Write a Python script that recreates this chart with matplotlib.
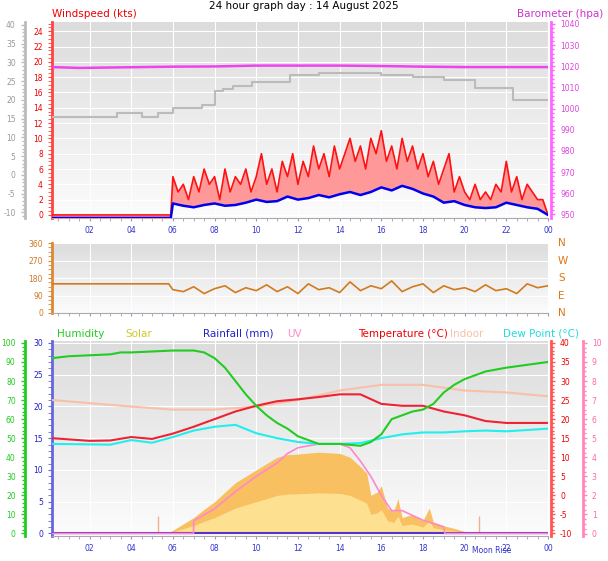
import numpy as np
import matplotlib
matplotlib.use("Agg")
import matplotlib.pyplot as plt
from matplotlib.ticker import MultipleLocator, FixedLocator

plt.rcParams["axes.unicode_minus"] = False

# ---------------- data ----------------
hour_ticks = [2, 4, 6, 8, 10, 12, 14, 16, 18, 20, 22, 24]
hour_labels = ["02", "04", "06", "08", "10", "12", "14", "16", "18", "20", "22", "00"]

gust_t = [0.2, 5.9] + list(np.linspace(6.0, 24.0, 73))
gust_v = [0, 0,
          5, 3, 4, 2, 5, 3, 6, 4,
          5, 2, 6, 3, 5, 4, 6, 3,
          5, 8, 4, 6, 3, 7, 5, 8,
          4, 7, 5, 9, 6, 8, 5, 9,
          6, 8, 10, 7, 9, 6, 10, 8,
          11, 7, 9, 6, 10, 7, 9, 6,
          8, 5, 7, 4, 6, 8, 3, 5,
          3, 2, 4, 2, 3, 2, 4, 3,
          7, 3, 5, 2, 4, 3, 2, 2,
          0]
avg_vals = [1.5, 1.2, 1.0, 1.3, 1.5, 1.2, 1.3, 1.6, 2.0, 1.7, 1.8, 2.4, 2.0, 2.2,
            2.6, 2.3, 2.7, 3.0, 2.6, 3.0, 3.6, 3.2, 3.8, 3.4, 2.8, 2.4, 1.6, 1.8,
            1.3, 1.0, 0.9, 1.0, 1.6, 1.3, 1.0, 0.8, 0.0]
avg_t = [0.2, 5.9] + list(np.linspace(6.0, 24.0, len(avg_vals)))
avg_v = [-0.4, -0.4] + avg_vals

grey_t = [0.2, 3.3, 4.5, 5.3, 6.0, 7.4, 8.0, 8.4, 8.9, 9.8, 11.6, 13.0, 16.0, 17.5, 19.0, 20.5, 22.3, 24]
grey_v = [12.8, 13.3, 12.8, 13.3, 14.0, 14.3, 16.2, 16.5, 16.8, 17.4, 18.3, 18.5, 18.3, 18.0, 17.6, 16.6, 15.0, 15.0]

baro_t = [0.2, 1.5, 3, 4.5, 6, 8, 10, 12, 14, 16, 18, 20, 22, 24]
baro_v = [1019.6, 1019.2, 1019.4, 1019.6, 1019.8, 1019.9, 1020.3, 1020.3, 1020.3, 1020.1, 1019.8, 1019.6, 1019.6, 1019.6]

dir_vals = [120, 110, 135, 100, 125, 140, 105, 130, 115, 145, 110, 135, 100, 150, 120, 130,
            105, 160, 115, 140, 125, 165, 110, 135, 150, 105, 140, 120, 130, 110, 145, 115,
            125, 100, 150, 130, 140]
dir_t = [0.2, 5.8] + list(np.linspace(6.0, 24.0, len(dir_vals)))
dir_v = [150, 150] + dir_vals

hum_t = [0.2, 1, 2, 3, 3.5, 4, 5, 6, 7, 7.5, 8, 8.5, 9, 9.5, 10, 10.5, 11, 11.5, 12, 12.5, 13, 14, 15,
         15.5, 16, 16.5, 17, 17.5, 18, 18.5, 19, 19.5, 20, 21, 21.5, 22, 23, 24]
hum_v = [92, 93, 93.5, 94, 95, 95, 95.5, 96, 96, 95, 92, 87, 80, 73, 67, 62, 58, 55, 51, 49, 47, 47, 46,
         48, 52, 60, 62, 64, 65, 68, 74, 78, 81, 85, 86, 87, 88.5, 90]

temp_t = [0.2, 2, 3, 4, 5, 6, 7, 8, 9, 10, 11, 12, 13, 14, 15, 16, 17, 18, 19, 20, 21, 22, 24]
temp_v = [15, 14.3, 14.4, 15.3, 14.8, 16.2, 18, 20, 22, 23.5, 24.7, 25.2, 25.8, 26.5, 26.5, 24,
          23.5, 23.5, 22, 21, 19.5, 19, 19]
dew_t = [0.2, 3, 4, 5, 6, 7, 8, 9, 10, 11, 12, 13, 14, 15, 16, 17, 18, 19, 20, 21, 22, 24]
dew_v = [13.5, 13.3, 14.5, 13.8, 15.3, 17, 18, 18.5, 16.3, 15, 14, 13.5, 13.5, 13.7, 15, 16, 16.5,
         16.5, 16.8, 17, 16.8, 17.5]
indoor_t = [0.2, 4, 6, 8, 10, 12, 14, 16, 18, 20, 22, 24]
indoor_v = [25, 23.3, 22.5, 22.5, 23.3, 25, 27.5, 29, 29, 27.5, 27, 26]

solar_t = [5.7, 6, 6.5, 7, 7.5, 8, 8.5, 9, 9.5, 10, 10.5, 11, 11.5, 12, 13, 14, 14.5, 15, 15.3,
           15.5, 15.8, 16, 16.3, 16.6, 16.8, 17, 17.5, 18, 18.3, 18.5, 19, 19.5, 20, 20.3]
solar_v = [0, 0.5, 1.5, 2.5, 3.8, 5, 6.5, 8, 9, 10, 11, 12, 12.4, 12.5, 12.8, 12.6, 12, 10.5, 9.5,
           6, 6.5, 7.5, 4, 3.5, 5.5, 2.5, 3, 2, 4, 1.8, 1.2, 0.8, 0.3, 0]

uv_t = [0.2, 6.99, 7.0, 8, 9, 10, 11, 11.5, 12, 13, 14, 14.5, 15, 15.5, 16, 16.5, 17, 18, 19, 19.05, 24]
uv_v = [0, 0, 0.67, 1.3, 2.2, 3.0, 3.7, 4.2, 4.5, 4.7, 4.7, 4.5, 3.8, 3.0, 2.0, 1.2, 1.2, 0.7, 0.35, 0, 0]

rain_t = [0.2, 24]
rain_v = [0, 0]
event_t = [5.3, 20.7]
event_h = [2.8, 2.8]

# ---------------- figure ----------------
W, H = 608, 561
fig = plt.figure(figsize=(W / 100, H / 100), dpi=100)
fig.patch.set_facecolor("white")
FS = 5.5
LFS = 7.5


def rect(x0, y0, x1, y1):
    return [x0 / W, 1 - y1 / H, (x1 - x0) / W, (y1 - y0) / H]


def prep(ax):
    grad = np.linspace(0, 1, 256).reshape(-1, 1)
    ax.imshow(grad, extent=[0, 1, 0, 1], transform=ax.transAxes,
              cmap=matplotlib.colors.LinearSegmentedColormap.from_list("g", ["#dcdcdc", "#fcfcfc"]),
              aspect="auto", zorder=0)
    ax.set_xlim(0.2, 24)
    ax.xaxis.set_major_locator(FixedLocator(hour_ticks))
    ax.set_xticklabels(hour_labels, color="#3333cc", fontsize=FS)
    ax.xaxis.set_minor_locator(MultipleLocator(0.5))
    ax.tick_params(axis="x", which="both", colors="#9999cc", labelcolor="#3333cc", length=2)
    ax.grid(True, color="white", lw=0.8)
    for s in ["top", "right"]:
        ax.spines[s].set_visible(False)
    for s in ["left", "bottom"]:
        ax.spines[s].set_color("#aaaaaa")


def side_axis(ax, color, pos, lim, step, minor, side="left", labcolor=None):
    t = ax.twinx()
    t.set_ylim(*lim)
    for s in ["top", "bottom", "left", "right"]:
        t.spines[s].set_visible(False)
    t.spines[side].set_visible(True)
    t.spines[side].set_position(("axes", pos))
    t.spines[side].set_color(color)
    t.spines[side].set_linewidth(2)
    t.yaxis.set_ticks_position(side)
    t.yaxis.set_label_position(side)
    t.yaxis.set_major_locator(MultipleLocator(step))
    t.yaxis.set_minor_locator(MultipleLocator(minor))
    t.tick_params(axis="y", which="both", colors=color, labelcolor=labcolor or color, labelsize=FS, length=3, width=1)
    t.tick_params(axis="y", which="minor", length=2)
    t.set_zorder(ax.get_zorder() - 1)
    return t


# ---- top panel ----
ax1 = fig.add_axes(rect(52, 22, 548, 218))
prep(ax1)
ax1.set_ylim(-0.4, 25.2)
ax1.yaxis.set_major_locator(MultipleLocator(2))
ax1.yaxis.set_minor_locator(MultipleLocator(0.5))
ax1.tick_params(axis="y", which="both", colors="#ff4444", labelcolor="#ee0000", labelsize=FS, length=3)
ax1.spines["left"].set_color("#ff4444")
ax1.spines["left"].set_linewidth(2)
side_axis(ax1, "#bbbbbb", -0.055, (-11.5, 40.8), 5, 1, "left", "#999999")
side_axis(ax1, "#ff66ff", 1.006, (948.3, 1040.9), 10, 2, "right", "#dd44dd")

ax1.plot(grey_t, grey_v, drawstyle="steps-post", color="#bbbbbb", lw=1.5, zorder=3)
bt = np.array(baro_t)
bv = (np.array(baro_v) - 948.3) / (1040.9 - 948.3) * 25.6 - 0.4
ax1.plot(bt, bv, color="#ee44ee", lw=1.8, zorder=3)
gi = np.interp(gust_t, avg_t, avg_v)
ax1.fill_between(gust_t, gi, gust_v, color="#ff9999", lw=0, zorder=3)
ax1.plot(gust_t, gust_v, color="#ff1111", lw=1.2, zorder=4)
ax1.plot(avg_t, avg_v, color="#0000ee", lw=1.8, zorder=5)

fig.text(0.5, 1 - 6 / H, "24 hour graph day : 14 August 2025", ha="center", va="center", fontsize=LFS)
fig.text(52 / W, 1 - 14 / H, "Windspeed (kts)", color="#ee0000", ha="left", va="center", fontsize=LFS)
fig.text(603 / W, 1 - 14 / H, "Barometer (hpa)", color="#cc33cc", ha="right", va="center", fontsize=LFS)

# ---- direction panel ----
ax2 = fig.add_axes(rect(52, 243, 548, 313))
prep(ax2)
ax2.set_ylim(0, 360)
ax2.yaxis.set_major_locator(FixedLocator([0, 90, 180, 270, 360]))
ax2.yaxis.set_minor_locator(MultipleLocator(22.5))
ax2.tick_params(axis="y", which="both", colors="#dd8833", labelcolor="#cc7722", labelsize=FS, length=3)
ax2.spines["left"].set_color("#dd8833")
ax2.spines["left"].set_linewidth(2)
ax2.set_xticklabels([])
ax2.plot(dir_t, dir_v, color="#d27a1e", lw=1.2, zorder=3)
for lab, v in zip(["N", "E", "S", "W", "N"], [0, 90, 180, 270, 360]):
    ax2.text(1.02, v / 360, lab, transform=ax2.transAxes, color="#dd7711", fontsize=LFS, va="center")

# ---- bottom panel ----
ax3 = fig.add_axes(rect(52, 341, 548, 536))
prep(ax3)
ax3.set_ylim(-0.4, 30.3)
ax3.yaxis.set_major_locator(MultipleLocator(5))
ax3.yaxis.set_minor_locator(MultipleLocator(1))
ax3.tick_params(axis="y", which="both", colors="#6666dd", labelcolor="#2222cc", labelsize=FS, length=3)
ax3.spines["left"].set_color("#6666dd")
ax3.spines["left"].set_linewidth(2)
side_axis(ax3, "#22cc22", -0.055, (-1.33, 101), 10, 2, "left", "#22cc22")
side_axis(ax3, "#ff5555", 1.006, (-10.67, 40.5), 5, 1, "right", "#ee0000")
side_axis(ax3, "#ff88bb", 1.07, (-0.13, 10.1), 1, 0.25, "right", "#ff66aa")


def to_r(v, lo, hi):
    return (np.array(v) - lo) / (hi - lo) * 30.7 - 0.4


ax3.fill_between(solar_t, 0, solar_v, color="#f8c060", lw=0, zorder=2)
ax3.fill_between(solar_t, 0, np.array(solar_v) * 0.5, color="#fde090", lw=0, zorder=2)
ax3.vlines(event_t, 0, event_h, color="#f0b090", lw=1, zorder=3)
ax3.plot(rain_t, rain_v, color="#5533cc", lw=1.5, zorder=4)
ax3.plot(uv_t, to_r(uv_v, -0.13, 10.1), color="#ff88cc", lw=1.2, zorder=4)
ax3.plot(indoor_t, to_r(indoor_v, -10.67, 40.5), color="#f8c0a8", lw=1.5, zorder=4)
ax3.plot(dew_t, to_r(dew_v, -10.67, 40.5), color="#22eeee", lw=1.5, zorder=4)
ax3.plot(temp_t, to_r(temp_v, -10.67, 40.5), color="#ee2233", lw=1.5, zorder=5)
ax3.plot(hum_t, to_r(hum_v, -1.33, 101), color="#22cc22", lw=1.5, zorder=5)
ax3.text(21.3, -2.7, "Moon Rise", color="#3333cc", fontsize=FS, ha="center", va="center")

for x, s, c in [(57, "Humidity", "#22cc22"), (125, "Solar", "#cccc22"), (203, "Rainfall (mm)", "#2222cc"),
                (287, "UV", "#ff88cc"), (358, "Temperature (°C)", "#ee0000"), (450, "Indoor", "#f8c0a8"),
                (503, "Dew Point (°C)", "#22dddd")]:
    fig.text(x / W, 1 - 334 / H, s, color=c, fontsize=LFS, ha="left", va="center")

fig.savefig("out.png", dpi=100)
